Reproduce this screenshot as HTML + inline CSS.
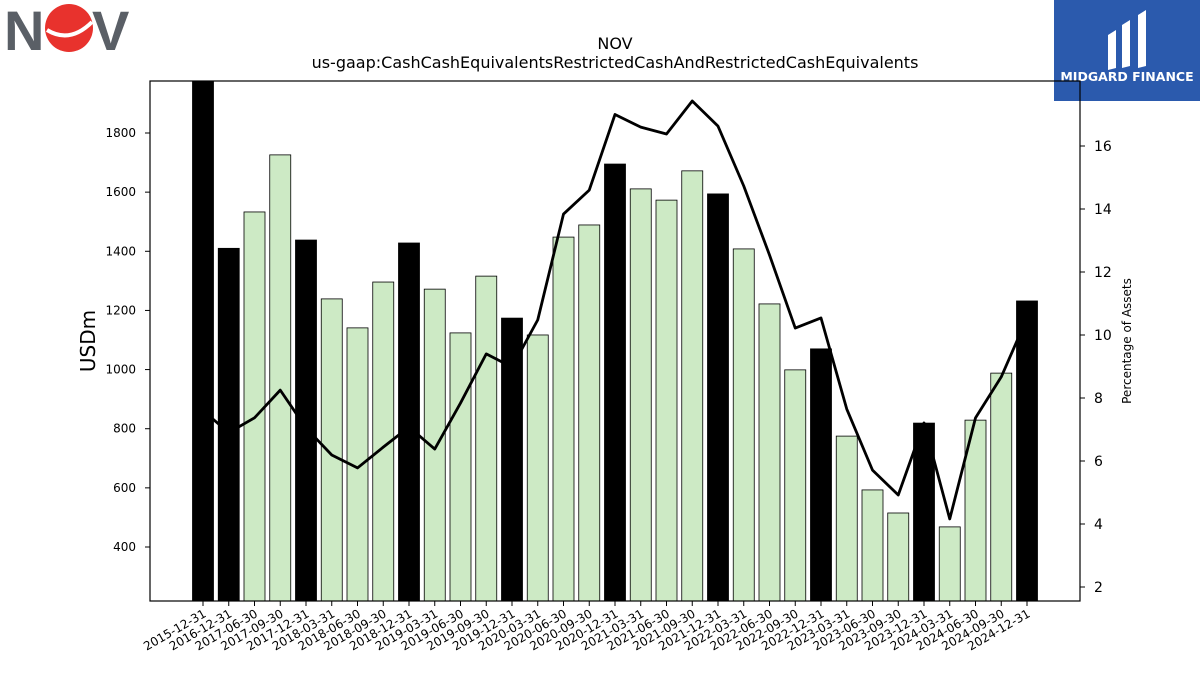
<!DOCTYPE html>
<html><head><meta charset="utf-8"><style>
body{margin:0;background:#fff;font-family:"Liberation Sans","DejaVu Sans",sans-serif}
</style></head><body>
<svg id="chart" width="1200" height="675" viewBox="0 0 1200 675" xmlns="http://www.w3.org/2000/svg" font-family="DejaVu Sans, Liberation Sans, sans-serif">
<g>
<text x="4" y="50" font-size="56" font-weight="bold" fill="#5a5f66" font-family="Liberation Sans, sans-serif" letter-spacing="-2">N</text>
<circle cx="69" cy="28" r="24" fill="#e8322d"/>
<path d="M47 30 Q70 44 92 22" stroke="#fff" stroke-width="4" fill="none"/>
<text x="92" y="50" font-size="56" font-weight="bold" fill="#5a5f66" font-family="Liberation Sans, sans-serif">V</text>
</g>
<g>
<rect x="1054" y="0" width="146" height="101" fill="#2b5aad"/>
<path d="M1108 35 L1116 30 L1116 68 L1108 70 Z M1122 25 L1130 20 L1130 66 L1122 68 Z M1138 15 L1146 10 L1146 66 L1138 68 Z" fill="#fff"/>
<text x="1127" y="81" font-size="12.5" font-weight="bold" fill="#fff" text-anchor="middle">MIDGARD FINANCE</text>
</g>
<text x="615" y="49" font-size="16" text-anchor="middle">NOV</text>
<text x="615" y="68" font-size="16" text-anchor="middle">us-gaap:CashCashEquivalentsRestrictedCashAndRestrictedCashEquivalents</text>
<defs><clipPath id="pc"><rect x="150" y="81" width="930" height="520"/></clipPath></defs>
<g id="bars" clip-path="url(#pc)"></g>
<g id="line" clip-path="url(#pc)"></g>
<rect x="150" y="81" width="930" height="520" fill="none" stroke="#000" stroke-width="1.2"/>
<g id="axes"></g>
<text x="0" y="0" font-size="20" text-anchor="middle" transform="translate(95,341) rotate(-90)">USDm</text>
<text x="0" y="0" font-size="12" text-anchor="middle" transform="translate(1131,341) rotate(-90)">Percentage of Assets</text>
</svg>
<script>
const categories=["2015-12-31","2016-12-31","2017-06-30","2017-09-30","2017-12-31","2018-03-31","2018-06-30","2018-09-30","2018-12-31","2019-03-31","2019-06-30","2019-09-30","2019-12-31","2020-03-31","2020-06-30","2020-09-30","2020-12-31","2021-03-31","2021-06-30","2021-09-30","2021-12-31","2022-03-31","2022-06-30","2022-09-30","2022-12-31","2023-03-31","2023-06-30","2023-09-30","2023-12-31","2024-03-31","2024-06-30","2024-09-30","2024-12-31"];
const cashValues=[1990,1410,1533,1726,1438,1239,1141,1296,1428,1272,1124,1316,1174,1117,1448,1489,1695,1611,1573,1672,1594,1408,1222,999,1070,775,593,515,819,468,829,988,1232];
const pctAssets=[7.6,6.9,7.37,8.25,7.05,6.19,5.78,6.44,7.08,6.38,7.84,9.4,8.98,10.48,13.84,14.6,17.0,16.6,16.38,17.43,16.63,14.73,12.54,10.22,10.54,7.65,5.71,4.92,7.21,4.16,7.37,8.67,10.54];
const leftTicks=[400,600,800,1000,1200,1400,1600,1800];
const rightTicks=[2,4,6,8,10,12,14,16];
const NS="http://www.w3.org/2000/svg";
const xPos=i=>203+i*(1027-203)/(categories.length-1);
const yL=v=>547-(v-400)*(547-133)/1400;
const yR=v=>587-(v-2)*(587-146)/14;
function mk(t,a,p){const e=document.createElementNS(NS,t);for(const k in a)e.setAttribute(k,a[k]);p.appendChild(e);return e;}
const bars=document.getElementById('bars'),axes=document.getElementById('axes'),line=document.getElementById('line');
const bw=21;
categories.forEach((c,i)=>{
 const annual=c.endsWith('12-31');
 const r=mk('rect',{x:xPos(i)-bw/2,y:yL(cashValues[i]),width:bw,height:601-yL(cashValues[i]),fill:annual?'#000':'#cdeac5',stroke:'#000','stroke-width':0.8},bars);
 
 
 mk('line',{x1:xPos(i),x2:xPos(i),y1:601,y2:606,stroke:'#000'},axes);
 const t=mk('text',{x:0,y:0,'font-size':12,'text-anchor':'end',transform:`translate(${xPos(i)+4},${616}) rotate(-30)`},axes);
 t.textContent=c;
 
 
});
const pl=mk('polyline',{points:pctAssets.map((v,i)=>xPos(i)+','+yR(v)).join(' '),fill:'none',stroke:'#000','stroke-width':2.8,'stroke-linejoin':'round'},line);


leftTicks.forEach(v=>{
 mk('line',{x1:145,x2:150,y1:yL(v),y2:yL(v),stroke:'#000'},axes);
 const t=mk('text',{x:136,y:yL(v)+4,'font-size':12,'text-anchor':'end'},axes);t.textContent=v;
 
 
});
rightTicks.forEach(v=>{
 mk('line',{x1:1080,x2:1085,y1:yR(v),y2:yR(v),stroke:'#000'},axes);
 const t=mk('text',{x:1094,y:yR(v)+5,'font-size':14},axes);t.textContent=v;
 
 
});
</script>
</body></html>
